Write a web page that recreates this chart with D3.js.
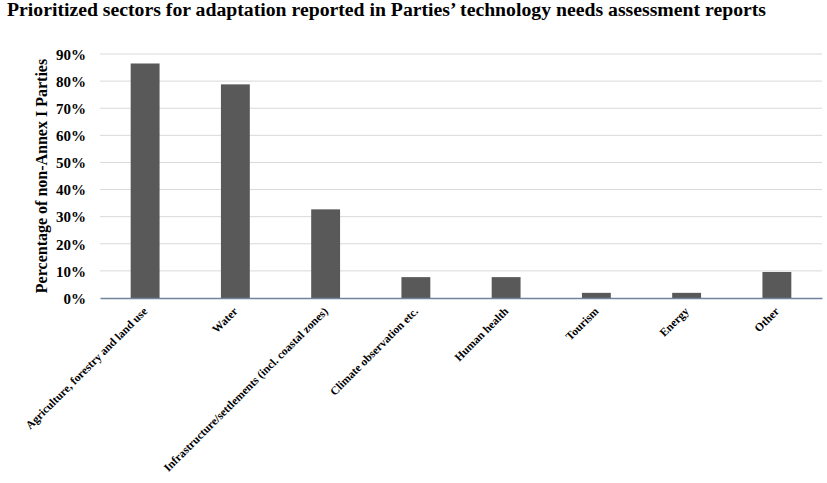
<!DOCTYPE html>
<html>
<head>
<meta charset="utf-8">
<script src="https://cdn.jsdelivr.net/npm/d3@7"></script>
<style>
  body { margin: 0; background: #fff; }
  text { font-family: "Liberation Serif", "Times New Roman", serif; font-weight: bold; fill: #000; }
</style>
</head>
<body>
<div id="chart"></div>
<script>
// data
var sectors = [
    "Agriculture, forestry and land use",
    "Water",
    "Infrastructure/settlements (incl. coastal zones)",
    "Climate observation etc.",
    "Human health",
    "Tourism",
    "Energy",
    "Other"
];
var shares = [0.865, 0.788, 0.327, 0.077, 0.077, 0.019, 0.019, 0.096];
var yTicks = [0, 0.1, 0.2, 0.3, 0.4, 0.5, 0.6, 0.7, 0.8, 0.9];

var title = "Prioritized sectors for adaptation reported in Parties\u2019 technology needs assessment reports";

var W = 827, H = 483;
var margin = {top: 54, right: 5, bottom: 185, left: 100},
    width = W - margin.left - margin.right,
    height = H - margin.top - margin.bottom;

var svg = d3.select("#chart")
    .append("svg")
    .attr("width", W)
    .attr("height", H);

svg.append("text")
    .attr("x", 7)
    .attr("y", 16)
    .attr("textLength", 759)
    .attr("lengthAdjust", "spacingAndGlyphs")
    .style("font-size", "18.5px")
    .text(title);

var g = svg.append("g")
    .attr("transform", "translate(" + margin.left + "," + margin.top + ")");

var x = d3.scaleBand()
    .domain(sectors)
    .range([0, width])
    .paddingInner(0.68)
    .paddingOuter(0.34);

var y = d3.scaleLinear()
    .domain([0, 0.9])
    .range([height, 0]);

// gridlines
g.selectAll("line.grid")
    .data(yTicks.slice(1))
    .enter()
    .append("line")
    .attr("class", "grid")
    .attr("x1", 0)
    .attr("x2", width)
    .attr("y1", function(d) { return y(d); })
    .attr("y2", function(d) { return y(d); })
    .attr("stroke", "#d9d9d9")
    .attr("stroke-width", 1);

// bars
g.selectAll("rect")
    .data(shares)
    .enter()
    .append("rect")
    .attr("x", function(d, i) { return x(sectors[i]); })
    .attr("y", function(d) { return y(d); })
    .attr("width", x.bandwidth())
    .attr("height", function(d) { return height - y(d); })
    .attr("fill", "#595959");

// Y axis (labels only)
var yAxis = g.append("g")
    .call(d3.axisLeft(y).tickValues(yTicks).tickFormat(d3.format(".0%")).tickSize(0).tickPadding(14));
yAxis.select(".domain").remove();
yAxis.selectAll("text")
    .style("font-size", "15px")
    .style("font-family", "'Liberation Serif', serif")
    .attr("dy", "0.35em");

// X axis
var xAxis = g.append("g")
    .attr("transform", "translate(0," + height + ")")
    .call(d3.axisBottom(x).tickSize(0).tickPadding(0));
xAxis.select(".domain")
    .attr("stroke", "#6f859e")
    .attr("stroke-width", 1.5);
xAxis.selectAll("text")
    .style("font-size", "11.5px")
    .style("font-family", "'Liberation Serif', serif")
    .style("text-anchor", "end")
    .attr("dx", 0)
    .attr("dy", 0)
    .attr("transform", "translate(3,14) rotate(-45)");

// Y axis title
svg.append("text")
    .attr("transform", "rotate(-90)")
    .attr("x", -176)
    .attr("y", 47)
    .style("text-anchor", "middle")
    .style("font-size", "16px")
    .text("Percentage of non-Annex I Parties");
</script>
</body>
</html>
